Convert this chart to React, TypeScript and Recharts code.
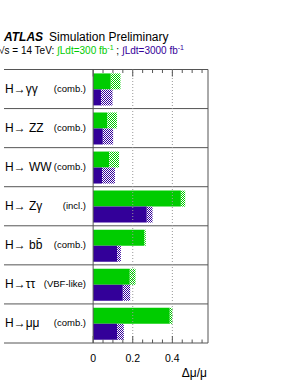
import { BarChart, Bar, XAxis, YAxis, CartesianGrid, ReferenceLine } from 'recharts';

const CHANNELS = ['H→γγ', 'H→ ZZ', 'H→ WW', 'H→ Zγ', 'H→ bb̄', 'H→ττ', 'H→μμ'];
const MODES = ['(comb.)', '(comb.)', '(comb.)', '(incl.)', '(comb.)', '(VBF-like)', '(comb.)'];

// 300 fb-1: solid = without theory unc., total = with theory unc. (hatched part)
const LUMI300_SOLID = [0.089, 0.072, 0.081, 0.443, 0.259, 0.185, 0.387];
const LUMI300_TOTAL = [0.138, 0.12, 0.131, 0.465, 0.266, 0.214, 0.4];
// 3000 fb-1
const LUMI3000_SOLID = [0.04, 0.049, 0.045, 0.271, 0.121, 0.15, 0.121];
const LUMI3000_TOTAL = [0.098, 0.101, 0.11, 0.3, 0.14, 0.187, 0.155];

const MAJOR_TICKS = [0, 0.2, 0.4];
const AXIS_TICKS = [0, 0.05, 0.1, 0.15, 0.2, 0.25, 0.3, 0.35, 0.4, 0.45, 0.5, 0.55];
const X_DOMAIN = [-0.45, 0.58];

const GREEN = '#00cc00';
const PURPLE = '#330099';
const FONT = '"Liberation Sans", Arial, Helvetica, sans-serif';

const data = CHANNELS.map((name, i) => ({
  name,
  gSolid: LUMI300_SOLID[i],
  gHatch: LUMI300_TOTAL[i] - LUMI300_SOLID[i],
  pSolid: LUMI3000_SOLID[i],
  pHatch: LUMI3000_TOTAL[i] - LUMI3000_SOLID[i],
}));

const RowLabel = (props: any) => {
  const { x, y, payload, index } = props;
  return (
    <g fontFamily={FONT}>
      <text x={x + 1} y={y + 4} fontSize={12} fill="#000">{payload.value}</text>
      <text x={x + 82} y={y + 2.5} fontSize={9.5} fill="#000" textAnchor="end">{MODES[index]}</text>
    </g>
  );
};

// bottom ticks point up into the frame, majors get a label
const BottomTick = (props: any) => {
  const { x, y, payload } = props;
  const major = MAJOR_TICKS.includes(payload.value);
  return (
    <g>
      <line x1={x} x2={x} y1={y} y2={y - (major ? 7 : 3.5)} stroke="#555" />
      {major && (
        <text x={x} y={y + 19} fontSize={10.5} fontFamily={FONT} textAnchor="middle" fill="#000">
          {payload.value}
        </text>
      )}
    </g>
  );
};

const TopTick = (props: any) => {
  const { x, y, payload } = props;
  const major = MAJOR_TICKS.includes(payload.value);
  return <line x1={x} x2={x} y1={y} y2={y + (major ? 7 : 3.5)} stroke="#555" />;
};

const separators = ({ offset }: any) =>
  CHANNELS.concat(['']).map((_, i) => offset.top + (i * offset.height) / CHANNELS.length);

export default function App() {
  return (
    <div style={{ position: 'absolute', left: 0, top: 0, width: 295, height: 382, background: '#fff' }}>
      <BarChart
        width={295}
        height={382}
        data={data}
        layout="vertical"
        margin={{ top: 68.5, right: 86, bottom: 38, left: 3 }}
        barCategoryGap="10%"
        barGap={0}
      >
        <defs>
          <pattern id="hatchG" width="2" height="2" patternUnits="userSpaceOnUse">
            <rect width="2" height="2" fill="#fff" />
            <rect x="0" y="0" width="1" height="1" fill={GREEN} />
            <rect x="1" y="1" width="1" height="1" fill={GREEN} />
          </pattern>
          <pattern id="hatchP" width="2" height="2" patternUnits="userSpaceOnUse">
            <rect width="2" height="2" fill="#fff" />
            <rect x="0" y="0" width="1" height="1" fill={PURPLE} />
            <rect x="1" y="1" width="1" height="1" fill={PURPLE} />
          </pattern>
        </defs>
        <CartesianGrid
          horizontal
          vertical={false}
          horizontalCoordinatesGenerator={separators}
          stroke="#555"
          strokeDasharray="0"
        />
        <XAxis type="number" domain={X_DOMAIN} allowDataOverflow ticks={AXIS_TICKS} height={1}
          tickLine={false} axisLine={false} tickSize={0} tickMargin={0} tick={<BottomTick />} interval={0} />
        <XAxis xAxisId="top" orientation="top" type="number" domain={X_DOMAIN} allowDataOverflow ticks={AXIS_TICKS} height={1}
          tickLine={false} axisLine={false} tickSize={0} tickMargin={0} tick={<TopTick />} interval={0} />
        <YAxis type="category" dataKey="name" width={1} tickLine={false} axisLine={false}
          tickSize={0} tickMargin={0} tick={<RowLabel />} interval={0} />
        <YAxis yAxisId="right" orientation="right" type="category" dataKey="name" width={1}
          tick={false} tickLine={false} axisLine={{ stroke: '#555' }} />
        <ReferenceLine x={0.2} stroke="#999" strokeDasharray="1 2" />
        <ReferenceLine x={0.4} stroke="#999" strokeDasharray="1 2" />
        <Bar dataKey="gSolid" stackId="g" fill={GREEN} isAnimationActive={false} />
        <Bar dataKey="gHatch" stackId="g" fill="url(#hatchG)" isAnimationActive={false} />
        <Bar dataKey="pSolid" stackId="p" fill={PURPLE} isAnimationActive={false} />
        <Bar dataKey="pHatch" stackId="p" fill="url(#hatchP)" isAnimationActive={false} />
        <ReferenceLine x={0} stroke="#555" />
      </BarChart>
      <svg width={295} height={382} style={{ position: 'absolute', left: 0, top: 0, pointerEvents: 'none' }}>
        <text x={4} y={40.5} fontFamily={FONT} fontSize={12} fill="#000">
          <tspan fontWeight="bold" fontStyle="italic">ATLAS</tspan>
          <tspan dx={6}>Simulation Preliminary</tspan>
        </text>
        <text x={-1} y={54} fontFamily={FONT} fontSize={10} fill="#000">
          <tspan>√s = 14 TeV: </tspan>
          <tspan fill={GREEN}>∫Ldt=300 fb</tspan>
          <tspan fill={GREEN} fontSize={7} dy={-4}>-1</tspan>
          <tspan dy={4}> ; </tspan>
          <tspan fill={PURPLE}>∫Ldt=3000 fb</tspan>
          <tspan fill={PURPLE} fontSize={7} dy={-4}>-1</tspan>
        </text>
        <text x={207} y={377} fontFamily={FONT} fontSize={12} textAnchor="end" fill="#000">Δμ/μ</text>
      </svg>
    </div>
  );
}
